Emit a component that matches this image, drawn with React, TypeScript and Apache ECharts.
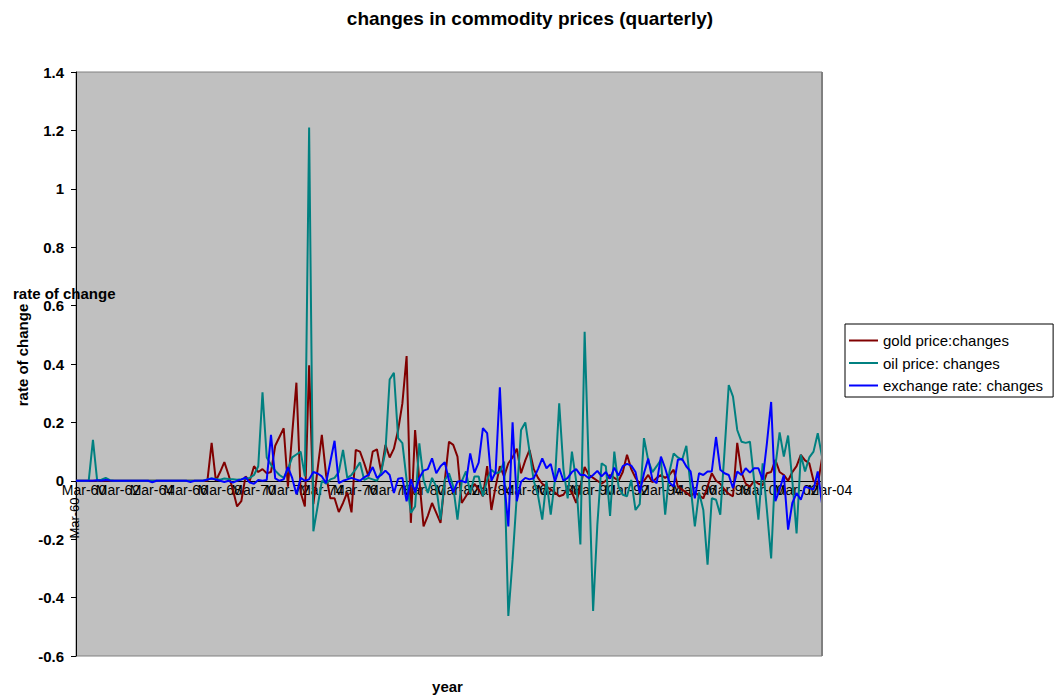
import React, { useEffect, useRef } from "react";
import * as echarts from "echarts";

// Quarterly observations, Mar-60 through Mar-04
const QUARTER_MONTHS = ["Mar", "Jun", "Sep", "Dec"];
const FIRST_YEAR = 1960;
const QUARTER_COUNT = 177;
const quarterLabels: string[] = Array.from({ length: QUARTER_COUNT }, (_, i) => {
  const yr = (FIRST_YEAR + Math.floor(i / 4)) % 100;
  return `${QUARTER_MONTHS[i % 4]}-${String(yr).padStart(2, "0")}`;
});
// a tick label every two years (8 quarters)
const LABEL_EVERY = 8;

// Rate of change per quarter, one row = two years (8 quarters)
const goldChanges = [
  0, 0, 0, 0, 0, 0, 0, 0,
  0, 0, 0, 0, 0, 0, 0, 0,
  0, 0, 0, 0, 0, 0, 0, 0,
  0, 0, 0, 0, 0, 0, 0, 0,
  0.13, 0.0, 0.03, 0.064, 0.02, -0.03, -0.088, -0.07,
  0.015, 0.0, 0.05, 0.03, 0.04, 0.026, 0.03, 0.12,
  0.15, 0.18, -0.02, 0.16, 0.336, -0.04, -0.088, 0.396,
  -0.08, 0.04, 0.157, 0.02, -0.06, -0.06, -0.107, -0.076,
  -0.04, -0.108, 0.106, 0.1, 0.06, 0.015, 0.1, 0.108,
  0.03, 0.123, 0.08, 0.11, 0.174, 0.265, 0.427, -0.144,
  0.174, 0.0, -0.156, -0.12, -0.076, -0.11, -0.144, 0.0,
  0.134, 0.123, 0.083, -0.076, -0.053, -0.03, -0.01, -0.03,
  -0.053, 0.05, -0.1, -0.02, 0.05, 0.015, 0.06, 0.08,
  0.11, 0.026, 0.07, 0.106, 0.04, 0.01, -0.01, -0.02,
  -0.03, -0.04, -0.053, -0.048, -0.025, -0.04, -0.076, -0.02,
  0.047, 0.02, 0.01, 0.0, -0.01, 0.0, 0.02, 0.01,
  0.0, 0.03, 0.089, 0.04, 0.01, -0.01, 0.0, 0.02,
  -0.005, 0.01, 0.02, 0.01, 0.02, 0.038, -0.02, -0.03,
  -0.04, -0.053, -0.04, -0.05, -0.06, -0.02, 0.026, 0.0,
  -0.01, -0.03, -0.045, -0.053, 0.13, 0.03, -0.01, -0.02,
  0.0, -0.01, -0.015, 0.026, 0.03, 0.072, 0.03, 0.02,
  0.0, 0.03, 0.05, 0.089, 0.07, 0.06, 0.0, -0.014,
  0.077,
];

const oilChanges = [
  0, 0, 0, 0, 0.14, 0, 0.004, 0.01,
  0.002, 0, 0, 0, 0, 0, 0, 0,
  0, 0, 0, 0, 0, 0, 0, 0,
  0, 0, 0, 0, 0, 0, 0, 0.005,
  0.008, 0.006, 0.004, 0.008, 0.006, 0.005, 0.004, 0.005,
  0.008, 0.01, 0.02, 0.05, 0.303, 0.08, 0.055, 0.035,
  0.02, 0.01, 0.04, 0.08, 0.09, 0.1, 0.015, 1.21,
  -0.173, -0.088, 0, -0.01, 0.005, 0.01, 0.03, 0.106,
  0.01, 0.02, 0.04, 0.063, 0.003, 0.01, 0.005, 0,
  0.03, 0.1, 0.347, 0.37, 0.146, 0.129, 0.003, -0.11,
  -0.088, 0.128, 0.003, -0.042, 0.01, -0.02, -0.133, 0.003,
  0.026, -0.02, -0.133, -0.002, 0.032, -0.042, 0.015, 0.015,
  -0.053, 0.003, 0.038, 0.025, 0.03, 0.066, -0.463, -0.27,
  -0.05, 0.174, 0.2, 0.1, 0, -0.05, -0.133, 0,
  -0.116, 0.003, 0.265, 0.04, -0.06, 0.1, 0, -0.218,
  0.51, 0.03, -0.446, -0.15, 0.06, 0.05, -0.12, 0.1,
  -0.02, -0.048, -0.053, 0.003, -0.1, -0.08, 0.146, 0.07,
  0.03, 0.05, 0.072, -0.116, 0.03, 0.094, 0.08, 0.072,
  0.12, -0.02, -0.156, -0.04, -0.1, -0.287, -0.06, -0.065,
  -0.116, 0.1, 0.328, 0.288, 0.174, 0.134, 0.13, 0.134,
  0, -0.133, 0.06, -0.1, -0.266, 0.05, 0.166, 0.083,
  0.155, 0, -0.18, 0.089, 0.032, 0.08, 0.1, 0.163,
  0.083,
];

const exchangeRateChanges = [
  0, 0, 0, 0, 0, 0.002, 0, 0.003,
  0.001, 0, 0, 0, 0, 0, 0, 0,
  0, 0, -0.005, 0, 0, 0, 0, 0,
  0, 0, 0, -0.004, 0, 0, 0, 0.004,
  0.008, 0.004, 0, -0.004, 0, -0.006, 0, 0.004,
  0.012, -0.006, -0.01, 0.003, 0, 0.003, 0.157, 0.008,
  0, 0.005, 0.047, 0.01, -0.046, 0.01, 0, 0.005,
  0.03, 0.025, 0.015, -0.008, 0.065, 0.137, -0.008, 0,
  0.005, 0.01, 0.005, 0, 0.012, 0.02, 0.047, 0.01,
  0.02, 0.035, 0.02, -0.042, 0.007, 0.01, -0.07, 0.005,
  -0.04, 0.01, 0.035, 0.04, 0.077, 0.026, 0.05, 0.064,
  0, -0.04, -0.003, 0, -0.006, 0.094, 0.028, 0.062,
  0.18, 0.163, 0, 0.03, 0.32, 0, -0.156, 0.2,
  -0.07, -0.003, 0.01, 0.005, 0.009, 0.04, 0.077, 0.043,
  0.058, -0.003, 0.043, 0, 0.01, 0.03, 0.04, 0.02,
  0.02, 0.009, 0.02, 0.034, 0.015, 0.03, 0.007, 0.045,
  0.018, 0.05, 0.058, 0.052, 0.03, -0.042, 0.026, 0.076,
  0.003, -0.008, 0.083, 0.043, -0.006, -0.02, 0.072, 0.075,
  0.049, 0.032, -0.06, 0.026, 0.02, 0.032, 0.032, 0.15,
  0.038, 0.026, 0.02, -0.025, 0.032, 0.02, 0.043, 0.028,
  0.043, 0.043, 0.003, 0.128, 0.27, -0.07, -0.03, 0.02,
  -0.167, -0.076, -0.042, -0.065, -0.02, -0.025, -0.03, 0.032,
  -0.078,
];

const SERIES_NAMES = ["gold price:changes", "oil price: changes", "exchange rate: changes"];
const SERIES_COLORS = ["#800000", "#008080", "#0000FF"];

const Y_MIN = -0.6;
const Y_MAX = 1.4;
const Y_STEP = 0.2;

const GRID_TOP = 72;
const GRID_BOTTOM = 40;
const CHART_H = 696;

const FONT = "'Liberation Sans', Arial, sans-serif";

export default function App() {
  const ref = useRef<HTMLDivElement | null>(null);

  useEffect(() => {
    if (!ref.current) return;
    const chart = echarts.init(ref.current, undefined, { renderer: "svg" });
    const seriesData = [goldChanges, oilChanges, exchangeRateChanges];

    // category axis sits on the zero line of the value axis, labels included
    const plotH = CHART_H - GRID_TOP - GRID_BOTTOM;
    const zeroY = GRID_TOP + plotH * (Y_MAX / (Y_MAX - Y_MIN));
    const xAxisOffset = -(CHART_H - GRID_BOTTOM - zeroY);

    const labelStyle = {
      color: "#000000",
      fontSize: 14,
      fontFamily: FONT,
      margin: 2,
      padding: [0, 0, 0, 16],
      hideOverlap: false,
    };

    // The dense, overlapping two-year labels are split over two stacked
    // category axes so that none of them gets dropped by overlap handling.
    const makeXAxis = (phase: number, primary: boolean) => ({
      type: "category",
      position: "bottom",
      data: quarterLabels,
      boundaryGap: false,
      offset: xAxisOffset,
      axisLine: { show: primary, onZero: false, lineStyle: { color: "#000000", width: 1 } },
      axisTick: { show: false },
      axisLabel: {
        ...labelStyle,
        interval: (idx: number) => idx % (LABEL_EVERY * 2) === phase,
      },
      splitLine: { show: false },
    });

    chart.setOption({
      animation: false,
      backgroundColor: "#ffffff",
      textStyle: { fontFamily: FONT },
      grid: {
        left: 76,
        right: 233,
        top: GRID_TOP,
        bottom: GRID_BOTTOM,
        show: true,
        backgroundColor: "#C0C0C0",
        borderColor: "#808080",
        borderWidth: 1,
      },
      xAxis: [makeXAxis(0, true), makeXAxis(LABEL_EVERY, false)],
      yAxis: {
        type: "value",
        min: Y_MIN,
        max: Y_MAX,
        interval: Y_STEP,
        axisLine: { show: true, onZero: false, lineStyle: { color: "#000000", width: 1 } },
        axisTick: { show: true, length: 5, lineStyle: { color: "#000000" } },
        axisLabel: {
          color: "#000000",
          fontSize: 15,
          fontWeight: "bold",
          fontFamily: FONT,
          margin: 12,
        },
        splitLine: { show: false },
      },
      legend: {
        orient: "vertical",
        left: 845,
        top: 324,
        icon: "rect",
        itemWidth: 29,
        itemHeight: 2,
        itemGap: 7.5,
        padding: [9, 10, 4, 4],
        borderColor: "#000000",
        borderWidth: 1,
        borderRadius: 0,
        backgroundColor: "#ffffff",
        itemStyle: { borderWidth: 0 },
        textStyle: { fontSize: 15, color: "#000000", lineHeight: 15, fontFamily: FONT },
        data: SERIES_NAMES,
      },
      series: SERIES_NAMES.map((name, k) => ({
        name,
        type: "line",
        xAxisIndex: 0,
        data: seriesData[k],
        symbol: "none",
        showSymbol: false,
        itemStyle: { color: SERIES_COLORS[k] },
        lineStyle: { color: SERIES_COLORS[k], width: 2 },
        emphasis: { disabled: true },
      })),
      graphic: [
        {
          type: "rect",
          shape: { x: 821, y: GRID_TOP, width: 2, height: plotH },
          style: { fill: "#808080" },
          z: 5,
        },
        {
          type: "text",
          x: 530,
          y: 18,
          style: {
            text: "changes in commodity prices (quarterly)",
            fontSize: 19,
            fontWeight: "bold",
            fontFamily: FONT,
            fill: "#000000",
            align: "center",
            verticalAlign: "middle",
          },
        },
        {
          type: "text",
          x: 13,
          y: 293,
          style: {
            text: "rate of change",
            fontSize: 15,
            fontWeight: "bold",
            fontFamily: FONT,
            fill: "#000000",
            align: "left",
            verticalAlign: "middle",
          },
          z: 10,
        },
        {
          type: "text",
          x: 22.5,
          y: 355,
          rotation: Math.PI / 2,
          style: {
            text: "rate of change",
            fontSize: 15,
            fontWeight: "bold",
            fontFamily: FONT,
            fill: "#000000",
            align: "center",
            verticalAlign: "middle",
          },
        },
        {
          type: "text",
          x: 74,
          y: 518,
          rotation: Math.PI / 2,
          style: {
            text: "Mar-60",
            fontSize: 13,
            fontFamily: FONT,
            fill: "#000000",
            align: "center",
            verticalAlign: "middle",
          },
        },
        {
          type: "text",
          x: 447.5,
          y: 686,
          style: {
            text: "year",
            fontSize: 15,
            fontWeight: "bold",
            fontFamily: FONT,
            fill: "#000000",
            align: "center",
            verticalAlign: "middle",
          },
        },
      ],
    });

    return () => chart.dispose();
  }, []);

  return (
    <div
      ref={ref}
      style={{ position: "absolute", left: 0, top: 0, width: 1055, height: 696 }}
    />
  );
}
